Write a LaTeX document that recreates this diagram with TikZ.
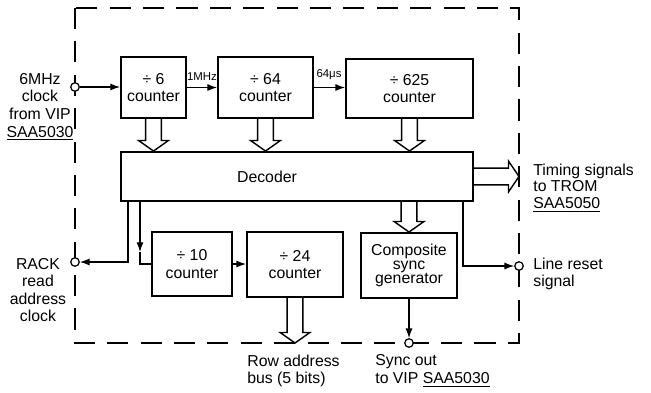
\documentclass[tikz,border=0pt]{standalone}
\usepackage{fontspec}
\setmainfont{Liberation Sans}
\usetikzlibrary{calc,arrows.meta}

\tikzset{
  block/.style={draw, line width=1.1pt, align=center, font=\fontsize{9}{10}\selectfont},
  port/.style={circle, draw, fill=white, inner sep=0pt, minimum size=0.17cm, line width=0.7pt},
  wire/.style={line width=0.7pt, -{Latex[length=5.5pt,width=4pt]}},
  chip/.style={line width=0.6pt, dash pattern=on 12pt off 7pt},
  lbl/.style={align=center, font=\fontsize{9}{10}\selectfont, inner sep=0pt},
  note/.style={font=\fontsize{6.5}{7}\selectfont, inner sep=0pt},
  bus/.style={line width=0.8pt},
  busdown/.style={to path={let \p1=(\tikztostart), \p2=(\tikztotarget) in
    ({\x1-4.5pt},\y1) -- ({\x1-4.5pt},{\y2+6pt}) -- ({\x1-8.5pt},{\y2+6pt}) -- (\x1,\y2)
    -- ({\x1+8.5pt},{\y2+6pt}) -- ({\x1+4.5pt},{\y2+6pt}) -- ({\x1+4.5pt},\y1)}},
  busright/.style={to path={let \p1=(\tikztostart), \p2=(\tikztotarget) in
    (\x1,{\y1+4.8pt}) -- ({\x2-6pt},{\y1+4.8pt}) -- ({\x2-6pt},{\y1+8.8pt}) -- (\x2,\y1)
    -- ({\x2-6pt},{\y1-8.8pt}) -- ({\x2-6pt},{\y1-4.8pt}) -- (\x1,{\y1-4.8pt})}}
}

\begin{document}
\begin{tikzpicture}[x=0.02cm, y=-0.02cm]
  \useasboundingbox (0,0) rectangle (651,392);

  % The chip outline
  \draw[chip] (75,8) rectangle (519,343);
  \coordinate (bl) at (75,343);

  % The counter chain
  \node[block, minimum width=1.3cm, minimum height=1.22cm] (div6) at (153.5,87.5) {÷ 6\\counter};
  \node[block, minimum width=1.9cm, minimum height=1.22cm] (div64) at (265.5,87.5) {÷ 64\\counter};
  \node[block, minimum width=2.54cm, minimum height=1.18cm] (div625) at (409.5,88.5) {÷ 625\\counter};

  % The decoder
  \node[block, minimum width=7.04cm, minimum height=0.98cm] (dec) at (297,176.5) {};
  \node[lbl] (tdec) at (267,177) {Decoder};

  % The row counters and the sync generator
  \node[block, minimum width=1.6cm, minimum height=1.28cm] (div10) at (192,264) {÷ 10\\counter};
  \node[block, minimum width=1.92cm, minimum height=1.3cm] (div24) at (295,264.5) {÷ 24\\counter};
  \node[block, minimum width=1.92cm, minimum height=1.3cm, font=\fontsize{9}{8}\selectfont] (sync) at (409,265.5) {Composite\\sync\\generator};

  % The pins on the outline
  \node[port] (cin) at (75,87) {};
  \node[port] (crack) at (75,262) {};
  \node[port] (creset) at (519,266) {};
  \node[port] (csync) at (sync.south |- bl) {};

  % The clock chain
  \draw[wire] (cin) -- (cin -| div6.west);
  \draw[wire] (div6.east) -- (div6.east -| div64.west);
  \draw[wire] (div64.east) -- (div64.east -| div625.west);
  \node[note] (t1mhz) at (202,77) {1MHz};
  \node[note] (t64us) at (329,75) {64μs};

  % The bus arrows
  \draw[bus] (div6.south) to[busdown] (div6.south |- dec.north);
  \draw[bus] (div64.south) to[busdown] (div64.south |- dec.north);
  \draw[bus] (div625.south) to[busdown] (div625.south |- dec.north);
  \draw[bus] (sync.north |- dec.south) to[busdown] (sync.north);
  \draw[bus] (div24.south) to[busdown] (div24.south |- bl);
  \draw[bus] (dec.east) to[busright] (dec.east -| creset);

  % The decoder outputs
  \coordinate (rk) at (128,0);
  \draw[wire] (dec.south -| rk) |- (crack);
  \coordinate (tdn) at (140,252);
  \draw[wire] (dec.south -| tdn) -- (tdn);
  \draw[line width=0.7pt] (tdn) |- (div10.west);
  \draw[wire] (div10.east) -- (div10.east -| div24.west);
  \coordinate (rs) at (463,0);
  \draw[wire] (dec.south -| rs) |- (creset);
  \draw[wire] (sync) -- (csync);

  % The texts outside
  \node[lbl] (tclk) at (40,107) {6MHz\\clock\\from VIP\\\underline{SAA5030}};
  \node[lbl] (track) at (38,290) {RACK\\read\\address\\clock};
  \node[lbl, align=left, anchor=west, font=\fontsize{9}{9.5}\selectfont] (ttiming) at (533,188) {Timing signals\\to TROM\\\underline{SAA5050}};
  \node[lbl, align=left, anchor=west] (treset) at (533,274) {Line reset\\signal};
  \node[lbl, align=left, anchor=west] (trow) at (247,371) {Row address\\bus (5 bits)};
  \node[lbl, align=left, anchor=west] (tsync) at (375,371) {Sync out\\to VIP \underline{SAA5030}};

\end{tikzpicture}
\end{document}
